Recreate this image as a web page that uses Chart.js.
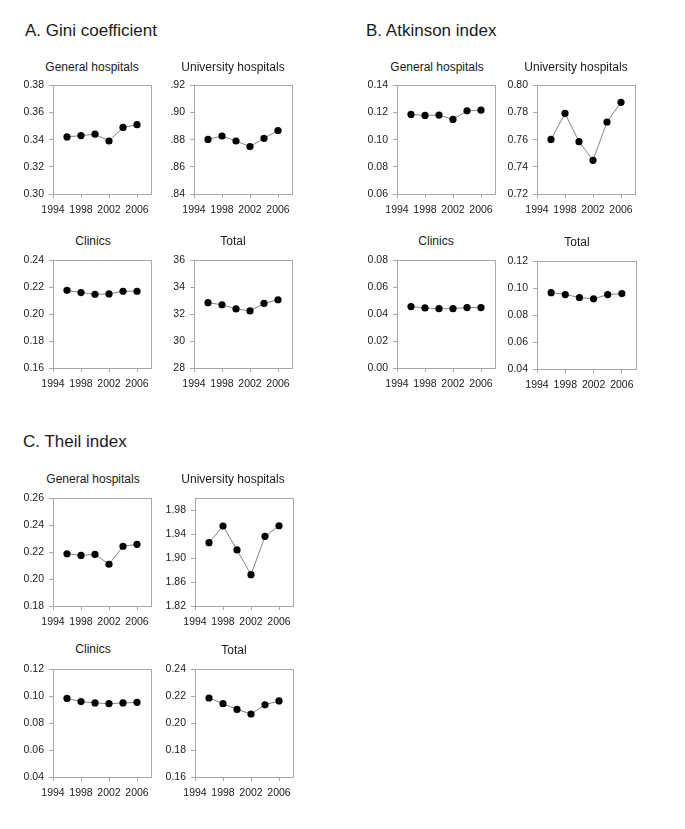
<!DOCTYPE html>
<html><head><meta charset="utf-8">
<script src="https://cdn.jsdelivr.net/npm/chart.js@4/dist/chart.umd.min.js"></script>
<style>
html,body{margin:0;padding:0;background:#fff;}
body{width:685px;height:829px;position:relative;overflow:hidden;font-family:"Liberation Sans",Arial,sans-serif;color:#1a1a1a;}
.sec{position:absolute;font-size:17px;line-height:20px;white-space:nowrap;}
.ttl{position:absolute;font-size:12px;line-height:14px;white-space:nowrap;transform:translateX(-50%);}
canvas{position:absolute;}
</style></head><body>
<div class="sec" style="left:25px;top:21px">A. Gini coefficient</div>
<div class="sec" style="left:366px;top:21px">B. Atkinson index</div>
<div class="sec" style="left:23px;top:432px">C. Theil index</div>
<script>
// ---- shared x data ----
const years = [1996, 1998, 2000, 2002, 2004, 2006];
const xTicks = [1994, 1998, 2002, 2006];
const xLabels = ["1994", "1998", "2002", "2006"];

// ---- A. Gini coefficient ----
const giniGeneral = [0.342, 0.343, 0.344, 0.339, 0.349, 0.351];
const giniGeneralTicks = [0.30, 0.32, 0.34, 0.36, 0.38];
const giniGeneralLabels = ["0.30", "0.32", "0.34", "0.36", "0.38"];

const giniUniversity = [0.8802, 0.8827, 0.8790, 0.8749, 0.8810, 0.8867];
const giniUniversityTicks = [0.84, 0.86, 0.88, 0.90, 0.92];
const giniUniversityLabels = [".84", ".86", ".88", ".90", ".92"];

const giniClinics = [0.2177, 0.2160, 0.2148, 0.2150, 0.2170, 0.2170];
const giniClinicsTicks = [0.16, 0.18, 0.20, 0.22, 0.24];
const giniClinicsLabels = ["0.16", "0.18", "0.20", "0.22", "0.24"];

const giniTotal = [32.85, 32.70, 32.39, 32.24, 32.80, 33.07];
const giniTotalTicks = [28, 30, 32, 34, 36];
const giniTotalLabels = ["28", "30", "32", "34", "36"];

// ---- B. Atkinson index ----
const atkGeneral = [0.1186, 0.1178, 0.1181, 0.1149, 0.1212, 0.1217];
const atkGeneralTicks = [0.06, 0.08, 0.10, 0.12, 0.14];
const atkGeneralLabels = ["0.06", "0.08", "0.10", "0.12", "0.14"];

const atkUniversity = [0.7602, 0.7793, 0.7585, 0.7448, 0.7730, 0.7875];
const atkUniversityTicks = [0.72, 0.74, 0.76, 0.78, 0.80];
const atkUniversityLabels = ["0.72", "0.74", "0.76", "0.78", "0.80"];

const atkClinics = [0.0456, 0.0446, 0.0441, 0.0441, 0.0449, 0.0449];
const atkClinicsTicks = [0.00, 0.02, 0.04, 0.06, 0.08];
const atkClinicsLabels = ["0.00", "0.02", "0.04", "0.06", "0.08"];

const atkTotal = [0.0967, 0.0953, 0.0931, 0.0921, 0.0953, 0.0960];
const atkTotalTicks = [0.04, 0.06, 0.08, 0.10, 0.12];
const atkTotalLabels = ["0.04", "0.06", "0.08", "0.10", "0.12"];

// ---- C. Theil index ----
const theilGeneral = [0.2188, 0.2176, 0.2183, 0.2110, 0.2244, 0.2258];
const theilGeneralTicks = [0.18, 0.20, 0.22, 0.24, 0.26];
const theilGeneralLabels = ["0.18", "0.20", "0.22", "0.24", "0.26"];

const theilUniversity = [1.9259, 1.9535, 1.9138, 1.8724, 1.9364, 1.9541];
const theilUniversityTicks = [1.82, 1.86, 1.90, 1.94, 1.98];
const theilUniversityLabels = ["1.82", "1.86", "1.90", "1.94", "1.98"];

const theilClinics = [0.0984, 0.0960, 0.0950, 0.0945, 0.0950, 0.0955];
const theilClinicsTicks = [0.04, 0.06, 0.08, 0.10, 0.12];
const theilClinicsLabels = ["0.04", "0.06", "0.08", "0.10", "0.12"];

const theilTotal = [0.2187, 0.2145, 0.2102, 0.2068, 0.2136, 0.2165];
const theilTotalTicks = [0.16, 0.18, 0.20, 0.22, 0.24];
const theilTotalLabels = ["0.16", "0.18", "0.20", "0.22", "0.24"];

// ---- layout (positions only) ----
const panels = [
  {title:"General hospitals", tx:92, ty:67, x:53, y:83, w:98, h:111, v:giniGeneral, t:giniGeneralTicks, l:giniGeneralLabels, min:0.30, max:0.38},
  {title:"University hospitals", tx:233, ty:67, x:194, y:83, w:98, h:111, v:giniUniversity, t:giniUniversityTicks, l:giniUniversityLabels, min:0.84, max:0.92},
  {title:"Clinics", tx:93, ty:241, x:53, y:258, w:98, h:110, v:giniClinics, t:giniClinicsTicks, l:giniClinicsLabels, min:0.16, max:0.24},
  {title:"Total", tx:233, ty:241, x:194, y:258, w:98, h:110, v:giniTotal, t:giniTotalTicks, l:giniTotalLabels, min:28, max:36},
  {title:"General hospitals", tx:437, ty:67, x:397, y:83, w:98, h:111, v:atkGeneral, t:atkGeneralTicks, l:atkGeneralLabels, min:0.06, max:0.14},
  {title:"University hospitals", tx:576, ty:67, x:537, y:83, w:98, h:111, v:atkUniversity, t:atkUniversityTicks, l:atkUniversityLabels, min:0.72, max:0.80},
  {title:"Clinics", tx:436, ty:241, x:397, y:258, w:98, h:110, v:atkClinics, t:atkClinicsTicks, l:atkClinicsLabels, min:0.00, max:0.08},
  {title:"Total", tx:577, ty:242, x:537, y:259, w:99, h:110, v:atkTotal, t:atkTotalTicks, l:atkTotalLabels, min:0.04, max:0.12},
  {title:"General hospitals", tx:93, ty:479, x:53, y:496, w:98, h:110, v:theilGeneral, t:theilGeneralTicks, l:theilGeneralLabels, min:0.18, max:0.26},
  {title:"University hospitals", tx:233, ty:479, x:195, y:496, w:98, h:110, v:theilUniversity, t:theilUniversityTicks, l:theilUniversityLabels, min:1.82, max:2.00},
  {title:"Clinics", tx:93, ty:649, x:53, y:667, w:98, h:110, v:theilClinics, t:theilClinicsTicks, l:theilClinicsLabels, min:0.04, max:0.12},
  {title:"Total", tx:234, ty:650, x:195, y:667, w:98, h:110, v:theilTotal, t:theilTotalTicks, l:theilTotalLabels, min:0.16, max:0.24}
];

const frameColor = '#a8a8a8';
const framePlugin = {
  id: 'frame',
  beforeDatasetsDraw(chart) {
    const a = chart.chartArea, ctx = chart.ctx;
    ctx.save();
    ctx.strokeStyle = frameColor;
    ctx.lineWidth = 1;
    ctx.strokeRect(Math.round(a.left) + 0.5, Math.round(a.top) + 0.5, Math.round(a.right - a.left), Math.round(a.bottom - a.top));
    ctx.restore();
  }
};

const FONT = {family: '"Liberation Sans", Arial, sans-serif', size: 10.5};
const TXT = '#1a1a1a';

panels.forEach(p => {
  const L = 46, T = 9, R = 9, B = 28;
  const W = p.w + L + R, H = p.h + T + B;
  const c = document.createElement('canvas');
  c.width = W; c.height = H;
  c.style.left = (p.x - L) + 'px'; c.style.top = (p.y - T) + 'px';
  c.style.width = W + 'px'; c.style.height = H + 'px';
  document.body.appendChild(c);

  const d = document.createElement('div');
  d.className = 'ttl';
  d.textContent = p.title;
  d.style.left = p.tx + 'px';
  d.style.top = (p.ty - 7) + 'px';
  document.body.appendChild(d);

  new Chart(c, {
    type: 'line',
    data: {
      datasets: [{
        data: years.map((yr, i) => ({x: yr, y: p.v[i]})),
        borderColor: '#858585',
        borderWidth: 1,
        pointRadius: 3.6,
        pointBackgroundColor: '#000',
        pointBorderColor: '#000',
        pointBorderWidth: 0,
        tension: 0,
        clip: false
      }]
    },
    options: {
      responsive: false,
      animation: false,
      layout: {padding: {left: 0, top: T, right: R, bottom: 0}},
      plugins: {legend: {display: false}, tooltip: {enabled: false}},
      scales: {
        x: {
          type: 'linear', min: 1994, max: 2008,
          afterBuildTicks: s => { s.ticks = xTicks.map(v => ({value: v})); },
          afterFit: s => { s.height = B; },
          ticks: {autoSkip: false, maxRotation: 0, padding: 6, color: TXT, font: FONT,
                  callback: (v, i) => xLabels[i]},
          grid: {drawOnChartArea: false, drawTicks: true, tickLength: 4, color: frameColor},
          border: {display: true, color: frameColor}
        },
        y: {
          type: 'linear', min: p.min, max: p.max,
          afterBuildTicks: s => { s.ticks = p.t.map(v => ({value: v})); },
          afterFit: s => { s.width = L; },
          ticks: {autoSkip: false, padding: 5, color: TXT, font: FONT,
                  callback: (v, i) => p.l[i]},
          grid: {drawOnChartArea: false, drawTicks: true, tickLength: 4, color: frameColor},
          border: {display: true, color: frameColor}
        }
      }
    },
    plugins: [framePlugin]
  });
});
</script>
</body></html>
